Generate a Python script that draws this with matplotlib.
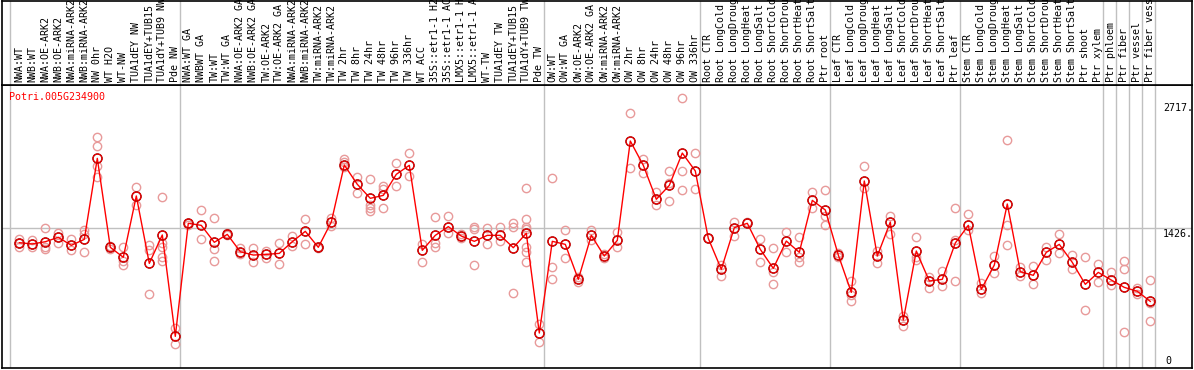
import matplotlib
matplotlib.use("Agg")
import matplotlib.pyplot as plt
import matplotlib.transforms as mtransforms

gene = "Potri.005G234900"

labels = [
    "NWA:WT", "NWB:WT", "NWA:OE-ARK2", "NWB:OE-ARK2", "NWA:miRNA-ARK2", "NWB:miRNA-ARK2",
    "NW 0hr", "WT H2O", "WT-NW", "TUA1dEY NW", "TUA1dEY+TUB15", "TUA1dY+TUB9 NW", "Pde NW",
    "NWA:WT GA", "NWBWT GA", "TW:WT", "TW:WT GA", "NWA:OE-ARK2 GA", "NWB:OE-ARK2 GA",
    "TW:OE-ARK2", "TW:OE-ARK2 GA", "NWA:miRNA-ARK2", "NWB:miRNA-ARK2", "TW:miRNA-ARK2",
    "TW:miRNA-ARK2", "TW 2hr", "TW 8hr", "TW 24hr", "TW 48hr", "TW 96hr", "TW 336hr",
    "WT ACC", "35S::etr1-1 H2", "35S::etr1-1 AC", "LMX5::etr1-1 H", "LMX5::etr1-1 A",
    "WT-TW", "TUA1dEY TW", "TUA1dEY+TUB15", "TUA1dY+TUB9 TW", "Pde TW",
    "OW:WT", "OW:WT GA", "OW:OE-ARK2", "OW:OE-ARK2 GA", "OW:miRNA-ARK2", "OW:miRNA-ARK2",
    "OW 2hr", "OW 8hr", "OW 24hr", "OW 48hr", "OW 96hr", "OW 336hr",
    "Root CTR", "Root LongCold", "Root LongDroug", "Root LongHeat", "Root LongSalt",
    "Root ShortCold", "Root ShortDrou", "Root ShortHeat", "Root ShortSalt", "Ptr root",
    "Leaf CTR", "Leaf LongCold", "Leaf LongDroug", "Leaf LongHeat", "Leaf LongSalt",
    "Leaf ShortCold", "Leaf ShortDrou", "Leaf ShortHeat", "Leaf ShortSalt", "Ptr leaf",
    "Stem CTR", "Stem LongCold", "Stem LongDroug", "Stem LongHeat", "Stem LongSalt",
    "Stem ShortCold", "Stem ShortDrou", "Stem ShortHeat", "Stem ShortSalt", "Ptr shoot",
    "Ptr xylem", "Ptr phloem", "Ptr fiber", "Ptr vessel", "Ptr fiber vess",
]

means = [
    1279, 1266, 1289, 1334, 1252, 1313, 2140, 1232, 1130, 1756, 1068, 1358, 323,
    1477, 1456, 1283, 1364, 1187, 1153, 1160, 1170, 1289, 1395, 1232, 1490, 2072, 1875,
    1732, 1762, 1977, 2069, 1201, 1354, 1443, 1347, 1293, 1354, 1354, 1228, 1375, 357,
    1293, 1262, 905, 1354, 1143, 1303, 2317, 2069, 1722, 1864, 2194, 2011,
    1323, 1007, 1432, 1477, 1211, 1017, 1296, 1181, 1711, 1613,
    1153, 772, 1909, 1143, 1490, 490, 1194, 888, 905, 1276,
    1456, 803, 1051, 1674, 983, 946, 1181, 1262, 1078, 854, 976,
    898, 823, 783, 680,
]

replicates = [
    [1313, 1279, 1238], [1306, 1238], [1426, 1238, 1211], [1374, 1272], [1317, 1204],
    [1409, 1368, 1187], [2354, 2269, 2062, 1953], [1245, 1211], [1232, 1096, 1051],
    [1844, 1664], [1255, 1204, 755], [1742, 1272, 1232, 1136, 1096], [405, 241],
    [1483, 1460], [1613, 1313], [1528, 1211, 1096], [1374, 1354], [1221, 1164],
    [1221, 1085], [1198, 1126], [1272, 1058], [1347, 1245], [1517, 1266], [1238, 1221],
    [1528, 1449], [2130, 2106, 2055], [1946, 1783], [1926, 1664, 1630, 1606],
    [1858, 1824, 1630], [2089, 1861], [2191, 1960], [1266, 1085], [1538, 1279, 1238],
    [1551, 1374], [1368, 1323], [1443, 1415, 1051], [1426, 1266], [1443, 1300],
    [1483, 1443, 762], [1834, 1521, 1443, 1415, 1238, 1187, 1078], [446, 269],
    [1936, 1034, 905], [1409, 1119], [925, 881], [1409, 1306], [1164, 1119], [1392, 1232],
    [2599, 2038], [2133, 1987], [1800, 1664], [2011, 1885, 1705], [2752, 2011, 1817],
    [2194, 1827],
    [1323], [1051, 942], [1494, 1347], [1494], [1313, 1085], [1221, 983, 854],
    [1392, 1181], [1340, 1136, 1085], [1800, 1630], [1817, 1551, 1460],
    [1177, 1136], [891, 745, 684], [2062, 1834], [1198, 1068], [1551, 1368], [531, 429],
    [1334, 1136, 1102], [932, 820], [990, 837], [1630, 1306, 888],
    [1568, 1409], [864, 769], [1143, 966], [2327, 1460, 1255], [1027, 942], [1041, 854],
    [1238, 1102], [1368, 1170], [1153, 1007], [1133, 592], [1061, 878],
    [980, 847], [1092, 1007, 364], [820, 755], [898, 660, 480],
]

group_ends = [12, 40, 52, 62, 72, 83, 84, 85, 86, 87]
axis_values = [2717, 1426, 0]

# ---------------------------------------------------------------
W, H = 1194, 370
fig = plt.figure(figsize=(W / 100, H / 100), dpi=100)
fig.patch.set_facecolor("white")

x0_px, x1_px = 2, 1192
y_top_px, y_mid_px, y_bot_px = 1, 85, 368
step_px, first_px = 13.0, 19.3

ax = fig.add_axes([x0_px / W, (H - y_bot_px) / H, (x1_px - x0_px) / W, (y_bot_px - y_mid_px) / H])
axl = fig.add_axes([x0_px / W, (H - y_mid_px) / H, (x1_px - x0_px) / W, (y_mid_px - y_top_px) / H])

xlim = ((x0_px - first_px) / step_px, (x1_px - first_px) / step_px)
scale = (y_bot_px - 228.3) / 1426.0  # px per unit
ylim = (0, (y_bot_px - y_mid_px) / scale)

for a in (ax, axl):
    a.set_xlim(*xlim)
    a.set_xticks([])
    a.set_yticks([])
    for s in a.spines.values():
        s.set_color("black")
        s.set_linewidth(1.2)
ax.set_ylim(*ylim)
axl.set_ylim(0, 1)

grey = "#c0c0c0"
seps = [-0.72] + [e + 5 / 13 for e in group_ends]
for sx in seps:
    ax.axvline(sx, color=grey, lw=1, zorder=1)
    axl.axvline(sx, color=grey, lw=1, zorder=1)
ax.axhline(1426, color=grey, lw=1, zorder=1)

xs = list(range(len(labels)))
rx, ry = [], []
for i, reps in enumerate(replicates):
    for v in reps:
        rx.append(i)
        ry.append(v)
ax.plot(rx, ry, linestyle="none", marker="o", markersize=6.0, mfc="none",
        mec="#e89a9a", mew=1.0, zorder=2)
ax.plot(xs, means, color="red", lw=1.0, zorder=3)
ax.plot(xs, means, linestyle="none", marker="o", markersize=6.5, mfc="none",
        mec="#900000", mew=1.1, zorder=4)
ax.plot(xs, means, linestyle="none", marker="o", markersize=6.5, mfc="none",
        mec="red", mew=0.6, zorder=5)

mono = "DejaVu Sans Mono"
fs = 7.2
trans_l = mtransforms.blended_transform_factory(axl.transData, axl.transAxes)
for i, lab in enumerate(labels):
    axl.text(i, 2.5 / 84, lab, rotation=90, ha="center", va="bottom",
             fontsize=fs, family=mono, color="black", transform=trans_l, clip_on=False)

ax.text((9 - x0_px) / (x1_px - x0_px), (y_bot_px - 97) / (y_bot_px - y_mid_px), gene,
        transform=ax.transAxes, color="red", fontsize=fs, family=mono, ha="left", va="center")

trans_r = mtransforms.blended_transform_factory(ax.transAxes, ax.transData)
xr = (1163 - x0_px) / (x1_px - x0_px)
for v in axis_values:
    if v == 0:
        ax.text((1165 - x0_px) / (x1_px - x0_px), 20, "0", transform=trans_r,
                fontsize=fs, family=mono, ha="left", va="bottom", color="black")
    else:
        ax.text(xr, v - 10, f"{v}.", transform=trans_r, fontsize=fs, family=mono,
                ha="left", va="top", color="black")

fig.savefig("out.png", dpi=100, facecolor="white")
